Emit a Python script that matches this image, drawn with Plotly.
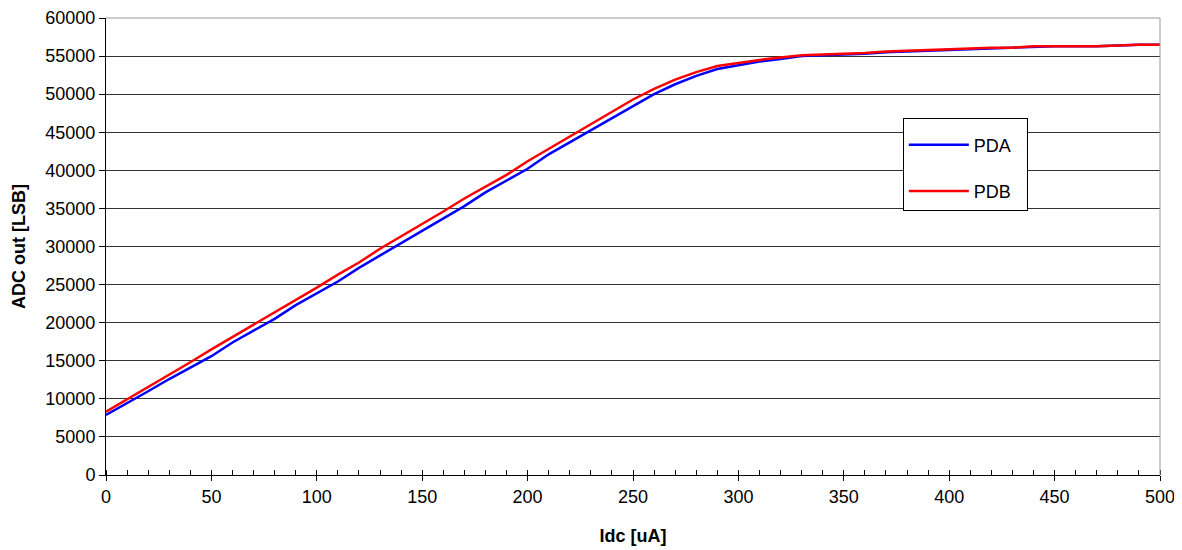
import plotly.graph_objects as go

idc = list(range(0, 501, 10))
pda = [7900, 9400, 11000, 12600, 14100, 15600, 17400, 18900, 20500, 22300,
       23900, 25400, 27200, 28800, 30400, 32100, 33700, 35300, 37100, 38600,
       40200, 42100, 43700, 45200, 46900, 48500, 50000, 51300, 52400, 53300,
       53800, 54300, 54600, 55000, 55100, 55200, 55300, 55500, 55600, 55700,
       55800, 55900, 56000, 56100, 56200, 56300, 56300, 56300, 56400, 56500, 56500]
pdb = [8300, 9900, 11600, 13200, 14800, 16500, 18100, 19700, 21300, 23000,
       24600, 26300, 27900, 29700, 31300, 32900, 34600, 36300, 37900, 39400,
       41200, 42800, 44400, 46100, 47700, 49300, 50700, 51900, 52900, 53700,
       54100, 54500, 54800, 55100, 55200, 55300, 55400, 55600, 55700, 55800,
       55900, 56000, 56100, 56100, 56300, 56300, 56300, 56300, 56400, 56500, 56500]
series_names = ["PDA", "PDB"]

font = "Liberation Sans, Arial, sans-serif"
pad = "\u00a0" * 2
fig = go.Figure()
fig.add_trace(go.Scatter(x=idc, y=pda, mode="lines", name=series_names[0] + pad,
                         line=dict(color="#0000FF", width=2.5), legendgroup="a"))
fig.add_trace(go.Scatter(x=idc, y=pdb, mode="lines", name=series_names[1] + pad,
                         line=dict(color="#FF0000", width=2.5), legendgroup="b"))

fig.update_layout(
    width=1174, height=542,
    margin=dict(l=98, r=22, t=10, b=75),
    paper_bgcolor="white", plot_bgcolor="white",
    font=dict(family=font, size=18, color="black"),
    showlegend=True,
    legend=dict(x=0.756, y=0.782, xanchor="left", yanchor="top",
                bordercolor="black", borderwidth=1, bgcolor="white",
                font=dict(size=18), tracegroupgap=20,
                title=dict(text="\u00a0", font=dict(size=6)),
                itemwidth=60),
    xaxis=dict(range=[0, 500], tickvals=list(range(0, 501, 50)),
               showgrid=False, zeroline=False, automargin=False,
               ticklabeloverflow="allow",
               showline=True, linecolor="black", linewidth=1,
               ticks="outside", ticklen=5, tickcolor="black",
               minor=dict(dtick=10, ticks="inside", ticklen=5, tickcolor="black", showgrid=False),
               title=dict(text="<b>Idc [uA]</b>", font=dict(size=18), standoff=23)),
    yaxis=dict(range=[0, 60000], dtick=5000, tickformat="d",
               showgrid=True, gridcolor="#333333", gridwidth=1,
               zeroline=False, automargin=False,
               ticklabeloverflow="allow",
               showline=True, linecolor="black", linewidth=1,
               ticks="outside", ticklen=6, tickcolor="black",
               title=dict(text="<b>ADC out [LSB]</b>", font=dict(size=18), standoff=15)),
)
# frame on top and right
fig.add_shape(type="line", xref="paper", yref="paper", x0=0, x1=1, y0=1, y1=1,
              line=dict(color="#999999", width=1))
fig.add_shape(type="line", xref="paper", yref="paper", x0=1, x1=1, y0=0, y1=1,
              line=dict(color="#999999", width=1))

fig.write_html("out.html")
